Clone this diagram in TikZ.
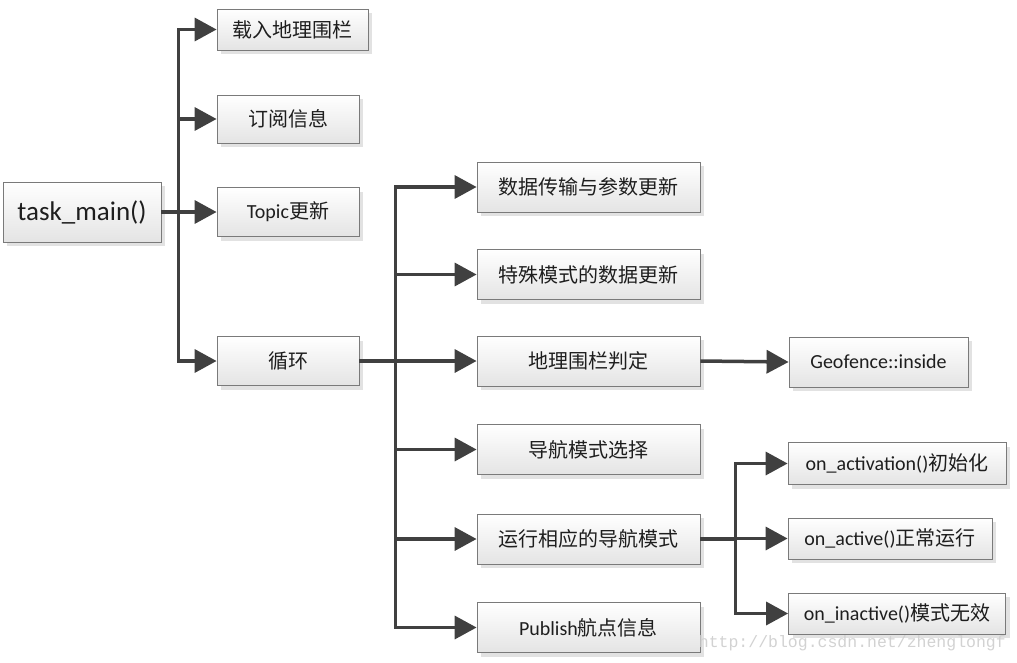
\documentclass[tikz,border=0pt]{standalone}
\usepackage{fontspec}
\setmainfont{Carlito}
\newfontfamily\cjk{Noto Sans CJK SC}
\newfontfamily\wmfont{Liberation Mono}
\usetikzlibrary{arrows.meta,shadows}
\definecolor{linec}{HTML}{404040}
\definecolor{boxline}{HTML}{7A7A7A}
\definecolor{boxbot}{HTML}{E4E4E4}
\definecolor{shadowc}{HTML}{E2E2E2}
\definecolor{txt}{HTML}{1E1E1E}
\definecolor{wm}{HTML}{D2D2D2}
\begin{document}
\begin{tikzpicture}[x=1pt,y=-1pt,
  box/.style n args={2}{draw=boxline, line width=0.8pt, top color=white, bottom color=boxbot,
    minimum width=#1, minimum height=#2, inner sep=0pt, text=txt,
    font=\fontsize{20}{22}\selectfont,
    drop shadow={shadow xshift=4pt, shadow yshift=-4pt, fill=shadowc, opacity=1}},
  conn/.style={line width=3.5pt, draw=linec, line join=miter,
    -{Triangle[length=22pt,width=23pt]}}]
\useasboundingbox (0,0) rectangle (1017,662);

\node[box={158pt}{60pt}, font=\fontsize{27}{30}\selectfont] (tm) at (82,212) {task\_main()};
\node[box={151pt}{41pt}] (b1) at (292.5,29.5) {\cjk 载入地理围栏};
\node[box={142pt}{48pt}] (b2) at (288,119) {\cjk 订阅信息};
\node[box={142pt}{49pt}] (b3) at (288,212) {Topic{\cjk 更新}};
\node[box={142pt}{49pt}] (b4) at (288,361) {\cjk 循环};

\node[box={223pt}{50pt}] (c1) at (588.5,187) {\cjk 数据传输与参数更新};
\node[box={223pt}{50pt}] (c2) at (588.5,274.5) {\cjk 特殊模式的数据更新};
\node[box={223pt}{50pt}] (c3) at (588.5,361) {\cjk 地理围栏判定};
\node[box={223pt}{50pt}] (c4) at (588.5,449.5) {\cjk 导航模式选择};
\node[box={223pt}{50pt}] (c5) at (588.5,539) {\cjk 运行相应的导航模式};
\node[box={223pt}{50pt}] (c6) at (588.5,627.5) {Publish{\cjk 航点信息}};

\node[box={179pt}{50pt}] (g) at (878.5,362) {Geofence::inside};
\node[box={218pt}{42pt}] (d1) at (897,463.5) {on\_activation(){\cjk 初始化}};
\node[box={204pt}{41pt}] (d2) at (890,538.5) {on\_active(){\cjk 正常运行}};
\node[box={217pt}{41pt}] (d3) at (897,613.5) {on\_inactive(){\cjk 模式无效}};

\node[font=\wmfont\fontsize{16.5}{18}\selectfont, text=wm, anchor=east, inner sep=0pt] (wmk) at (1006,643) {http://blog.csdn.net/zhenglongf};

% task_main branches
\foreach \t in {b1,b2,b3,b4}
  \draw[conn] (tm.east) -- ++(17,0) |- (\t.west);
% loop branches
\foreach \t in {c1,c2,c3,c4,c5,c6}
  \draw[conn] (b4.east) -- ++(36,0) |- (\t.west);
% geofence
\draw[conn] (c3.east) -- (g.west);
% mode branches
\foreach \t in {d1,d2,d3}
  \draw[conn] (c5.east) -- ++(35,0) |- (\t.west);
\end{tikzpicture}
\end{document}
